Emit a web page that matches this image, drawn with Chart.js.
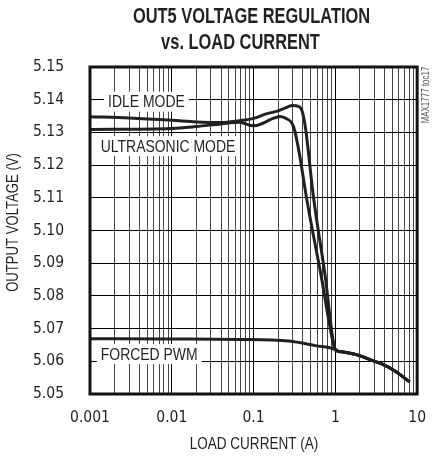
<!DOCTYPE html>
<html>
<head>
<meta charset="utf-8">
<script src="https://cdn.jsdelivr.net/npm/chart.js@4.4.1/dist/chart.umd.min.js"></script>
<style>
  html, body { margin: 0; padding: 0; background: #fff; }
  #wrap { width: 441px; height: 458px; }
</style>
</head>
<body>
<div id="wrap"><canvas id="chart" width="441" height="458"></canvas></div>
<script>
// values (load current in A, output voltage in V)
var idleCurrent = [0.001, 0.003, 0.01, 0.02, 0.04, 0.067, 0.1, 0.14, 0.2, 0.25, 0.3, 0.35, 0.39, 0.43, 0.54, 0.75, 0.98, 1.05, 1.3, 1.9, 2.8, 3.7, 5.3, 8.1];
var idleVoltage = [5.1348, 5.1344, 5.1337, 5.1332, 5.1330, 5.1336, 5.1343, 5.1356, 5.1366, 5.1376, 5.1382, 5.1380, 5.1367, 5.1316, 5.1102, 5.0862, 5.0640, 5.0632, 5.0628, 5.0619, 5.0603, 5.0592, 5.0571, 5.0537];

var ultraCurrent = [0.001, 0.01, 0.02, 0.04, 0.067, 0.1, 0.13, 0.17, 0.21, 0.24, 0.31, 0.357, 0.45, 0.67, 0.98, 1.05, 1.3, 1.9, 2.8, 3.7, 5.3, 8.1];
var ultraVoltage = [5.1309, 5.1312, 5.1318, 5.1326, 5.1331, 5.1320, 5.1328, 5.1342, 5.1349, 5.1345, 5.1316, 5.1245, 5.1092, 5.0862, 5.0640, 5.0632, 5.0628, 5.0619, 5.0603, 5.0592, 5.0571, 5.0537];

var pwmCurrent = [0.001, 0.01, 0.067, 0.27, 0.57, 1.0, 1.05, 1.3, 1.9, 2.8, 3.7, 5.3, 8.1];
var pwmVoltage = [5.0669, 5.0668, 5.0667, 5.0662, 5.0648, 5.0636, 5.0632, 5.0628, 5.0619, 5.0603, 5.0592, 5.0571, 5.0537];

var xDecades = [0.001, 0.01, 0.1, 1, 10];
var xMinorSteps = [2, 3, 4, 5, 6, 7, 8, 9];
var yTicks = [5.05, 5.06, 5.07, 5.08, 5.09, 5.10, 5.11, 5.12, 5.13, 5.14, 5.15];

var curveLabels = [
    { text: "IDLE MODE", x: 0.0049, y: 5.1394 },
    { text: "ULTRASONIC MODE", x: 0.0090, y: 5.1258 },
    { text: "FORCED PWM", x: 0.0053, y: 5.0622 }
];

var TICK_FONT = "'DejaVu Sans Condensed', 'DejaVu Sans', sans-serif";
var TEXT_FONT = "'Liberation Sans', Arial, sans-serif";
var NARROW = 0.82;   // squeeze Liberation Sans into an Arial Narrow look
var INK = "#231f20";

function toPoints(xs, ys) {
    var pts = [];
    for (var i = 0; i < xs.length; i++) pts.push({ x: xs[i], y: ys[i] });
    return pts;
}

function isDecade(v) {
    var l = Math.log10(v);
    return Math.abs(l - Math.round(l)) < 1e-6;
}

// narrow text, centred on (x, y)
function narrowText(ctx, text, x, y, sx) {
    ctx.save();
    ctx.translate(x, y);
    ctx.scale(sx, 1);
    ctx.fillText(text, 0, 0);
    ctx.restore();
}

var gridValues = [];
for (var d = 0; d < xDecades.length; d++) {
    gridValues.push(xDecades[d]);
    if (d < xDecades.length - 1) {
        for (var m = 0; m < xMinorSteps.length; m++) {
            gridValues.push(+(xDecades[d] * xMinorSteps[m]).toPrecision(3));
        }
    }
}

var labelPlugin = {
    id: 'curveLabels',
    beforeDatasetsDraw: function (chart) {
        var ctx = chart.ctx;
        var xs = chart.scales.x, ys = chart.scales.y;
        ctx.save();
        ctx.font = "17px " + TEXT_FONT;
        ctx.textAlign = "center";
        ctx.textBaseline = "middle";
        curveLabels.forEach(function (l) {
            var px = xs.getPixelForValue(l.x);
            var py = ys.getPixelForValue(l.y);
            var w = ctx.measureText(l.text).width * NARROW;
            ctx.fillStyle = "#fff";
            ctx.fillRect(px - w / 2 - 4, py - 10, w + 8, 20);
            ctx.fillStyle = INK;
            narrowText(ctx, l.text, px, py + 1, NARROW);
        });
        ctx.restore();
    }
};

var framePlugin = {
    id: 'frame',
    afterDatasetsDraw: function (chart) {
        var a = chart.chartArea;
        var ctx = chart.ctx;
        ctx.save();
        ctx.strokeStyle = "#111";
        ctx.lineWidth = 3;
        ctx.strokeRect(a.left, a.top, a.right - a.left, a.bottom - a.top);
        ctx.restore();
    }
};

var textPlugin = {
    id: 'texts',
    afterDraw: function (chart) {
        var ctx = chart.ctx;
        ctx.save();
        ctx.fillStyle = INK;
        ctx.textAlign = "center";
        ctx.textBaseline = "middle";
        ctx.font = "bold 22.5px " + TEXT_FONT;
        narrowText(ctx, "OUT5 VOLTAGE REGULATION", 251.5, 17, 0.73);
        narrowText(ctx, "vs. LOAD CURRENT", 240.5, 43, 0.73);

        ctx.font = "16.5px " + TEXT_FONT;
        narrowText(ctx, "LOAD CURRENT (A)", 254, 444, NARROW);

        ctx.save();
        ctx.translate(13.5, 222.5);
        ctx.rotate(-Math.PI / 2);
        ctx.font = "16px " + TEXT_FONT;
        narrowText(ctx, "OUTPUT VOLTAGE (V)", 0, 0, NARROW);
        ctx.restore();

        ctx.save();
        ctx.translate(426, 95);
        ctx.rotate(-Math.PI / 2);
        ctx.fillStyle = "#555";
        ctx.font = "10px " + TEXT_FONT;
        narrowText(ctx, "MAX1777 toc17", 0, 0, 0.8);
        ctx.restore();
        ctx.restore();
    }
};

function lineSet(label, xs, ys) {
    return {
        label: label,
        data: toPoints(xs, ys),
        borderColor: INK,
        borderWidth: 3,
        pointRadius: 0,
        fill: false,
        cubicInterpolationMode: 'monotone'
    };
}

var config = {
    type: 'line',
    data: {
        datasets: [
            lineSet("IDLE MODE", idleCurrent, idleVoltage),
            lineSet("ULTRASONIC MODE", ultraCurrent, ultraVoltage),
            lineSet("FORCED PWM", pwmCurrent, pwmVoltage)
        ]
    },
    options: {
        responsive: false,
        animation: false,
        devicePixelRatio: 1,
        layout: { padding: { top: 67, right: 23, left: 0, bottom: 0 } },
        plugins: {
            legend: { display: false },
            tooltip: { enabled: false }
        },
        scales: {
            x: {
                type: 'logarithmic',
                min: 0.001,
                max: 10,
                afterBuildTicks: function (scale) {
                    scale.ticks = gridValues.map(function (v) { return { value: v }; });
                },
                afterFit: function (scale) { scale.height = 64; },
                grid: {
                    drawTicks: false,
                    lineWidth: 1,
                    color: function (c) {
                        return c.tick && isDecade(c.tick.value) ? "#000" : "#444";
                    }
                },
                border: { display: false },
                ticks: {
                    autoSkip: false,
                    maxRotation: 0,
                    padding: 15,
                    color: INK,
                    font: { family: TICK_FONT, size: 15.5 },
                    callback: function (v) {
                        if (!isDecade(v)) return '';
                        return xDecades.indexOf(+v.toPrecision(3)) >= 0 ? String(+v.toPrecision(3)) : '';
                    }
                }
            },
            y: {
                type: 'linear',
                min: 5.05,
                max: 5.15,
                afterBuildTicks: function (scale) {
                    scale.ticks = yTicks.map(function (v) { return { value: v }; });
                },
                afterFit: function (scale) { scale.width = 90; },
                grid: { drawTicks: false, lineWidth: 1, color: "#000" },
                border: { display: false },
                ticks: {
                    padding: 26,
                    color: INK,
                    font: { family: TICK_FONT, size: 15.5 },
                    callback: function (v) { return Number(v).toFixed(2); }
                }
            }
        }
    },
    plugins: [labelPlugin, framePlugin, textPlugin]
};

var chart = new Chart(document.getElementById("chart"), config);
</script>
</body>
</html>
